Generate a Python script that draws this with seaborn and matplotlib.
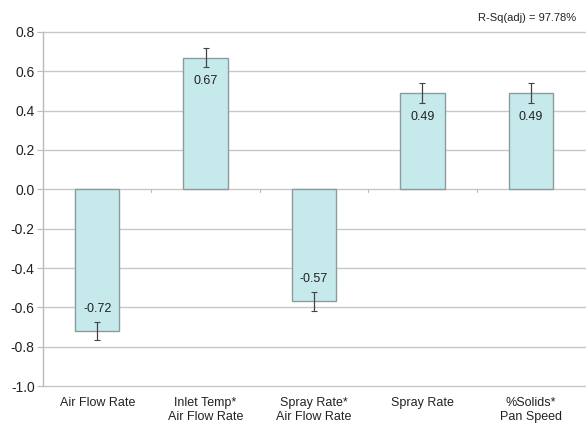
import numpy as np
import pandas as pd
import matplotlib
matplotlib.use("Agg")
import matplotlib.pyplot as plt
import seaborn as sns

terms = ["Air Flow Rate", "Inlet Temp*\nAir Flow Rate", "Spray Rate*\nAir Flow Rate",
         "Spray Rate", "%Solids*\nPan Speed"]
effects = [-0.72, 0.67, -0.57, 0.49, 0.49]
errors = [0.045, 0.047, 0.049, 0.049, 0.05]
value_labels = ["-0.72", "0.67", "-0.57", "0.49", "0.49"]
y_ticks = [-1.0, -0.8, -0.6, -0.4, -0.2, 0.0, 0.2, 0.4, 0.6, 0.8]
r_sq_text = "R-Sq(adj) = 97.78%"

sns.set_theme(style="white")
plt.rcParams["font.family"] = ["Liberation Sans", "DejaVu Sans"]

df = pd.DataFrame({"term": terms, "effect": effects})

fig = plt.figure(figsize=(5.86, 4.23), dpi=100)
ax = fig.add_axes([43 / 586, 1 - 386 / 423, 542 / 586, (386 - 32) / 423])

for y in y_ticks:
    ax.axhline(y, color="#c8c8c8", lw=1.0, zorder=0, clip_on=False)

sns.barplot(data=df, x="term", y="effect", color="#c6eaeb", edgecolor="#8c9c9c",
            linewidth=1.0, width=0.41, saturation=1, ax=ax, zorder=2)

x = np.arange(len(terms))
ax.errorbar(x, effects, yerr=errors, fmt="none", ecolor="#444444", elinewidth=0.9,
            capsize=2, capthick=0.8, zorder=3)

for xi, v, lab in zip(x, effects, value_labels):
    off = -17 if v > 0 else 16
    ax.annotate(lab, (xi, v), xytext=(0, off), textcoords="offset points",
                ha="center", va="center", fontsize=9, color="#222222", zorder=4)

# category boundary ticks on the zero line
for b in np.arange(0.5, len(terms) - 1, 1.0):
    ax.plot([b, b], [0, -0.012], color="#bbbbbb", lw=0.8, zorder=1)

ax.set_xlim(-0.5, len(terms) - 0.5)
ax.set_ylim(-1.0, 0.8)
ax.set_yticks(y_ticks)
ax.set_yticklabels([f"{t:.1f}" for t in y_ticks], fontsize=10, color="#222222")
ax.set_xticks(x)
ax.set_xticklabels(terms, fontsize=9, color="#222222", linespacing=1.2)
ax.tick_params(axis="x", length=0, pad=8)
ax.tick_params(axis="y", length=4, width=0.8, color="#bbbbbb", pad=2, left=True)
ax.set_xlabel("")
ax.set_ylabel("")

for s in ["top", "right", "bottom"]:
    ax.spines[s].set_visible(False)
ax.spines["left"].set_color("#bbbbbb")
ax.spines["left"].set_linewidth(1.0)

fig.text(576 / 586, 1 - 18 / 423, r_sq_text, ha="right", va="center",
         fontsize=8, color="#222222")

fig.savefig("out.png", dpi=100)
